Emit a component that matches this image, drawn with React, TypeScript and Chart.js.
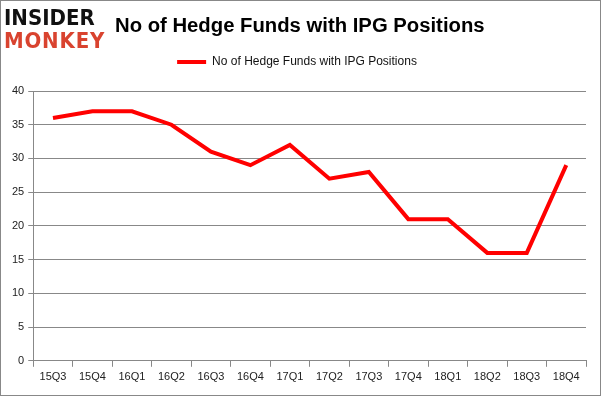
import React, { useEffect, useRef } from "react";
import { Chart, registerables } from "chart.js";

Chart.register(...registerables);

const categories = ["15Q3","15Q4","16Q1","16Q2","16Q3","16Q4","17Q1","17Q2","17Q3","17Q4","18Q1","18Q2","18Q3","18Q4"];
const hedgeFunds = [36,37,37,35,31,29,32,27,28,21,21,16,16,29];
const seriesLabel = "No of Hedge Funds with IPG Positions";
const titleText = "No of Hedge Funds with IPG Positions";

const legendMargin = {
  id: "legendMargin",
  beforeInit(chart: any) {
    const origFit = chart.legend.fit;
    chart.legend.fit = function () {
      origFit.bind(chart.legend)();
      this.height += 13;
    };
  },
};

export default function App() {
  const ref = useRef<HTMLCanvasElement | null>(null);
  useEffect(() => {
    document.body.style.margin = "0";
    const font = "'Liberation Sans', Arial, sans-serif";
    const chart = new Chart(ref.current as HTMLCanvasElement, {
      type: "line",
      data: {
        labels: categories,
        datasets: [{
          label: seriesLabel,
          data: hedgeFunds,
          borderColor: "#ff0000",
          backgroundColor: "#ff0000",
          borderWidth: 4,
          pointRadius: 0,
          tension: 0,
        }],
      },
      plugins: [legendMargin],
      options: {
        animation: false,
        responsive: false,
        layout: { padding: { top: 36, right: 15, left: 8, bottom: 8 } },
        plugins: {
          legend: {
            display: true,
            labels: {
              boxWidth: 29,
              boxHeight: 4,
              color: "#111",
              font: { family: font, size: 12 },
              padding: 20,
              generateLabels: (c: any) =>
                (Chart.defaults.plugins.legend.labels.generateLabels as any)(c).map((l: any) => ({ ...l, lineWidth: 0 })),
            },
          },
          tooltip: { enabled: false },
        },
        scales: {
          x: {
            offset: true,
            grid: { drawOnChartArea: false, offset: true, tickLength: 6, color: "#888" },
            border: { color: "#888" },
            ticks: { color: "#222", font: { family: font, size: 11 }, maxRotation: 0, padding: 4 },
          },
          y: {
            min: 0,
            max: 40,
            ticks: { stepSize: 5, color: "#222", font: { family: font, size: 11 }, padding: 4 },
            grid: { color: "#888", tickLength: 5 },
            border: { color: "#888" },
          },
        },
      },
    });
    return () => chart.destroy();
  }, []);
  return (
    <div style={{ position: "relative", width: 601, height: 396, background: "#fff" }}>
      <canvas ref={ref} width={601} height={396} style={{ position: "absolute", left: 0, top: 0 }} />
      <div style={{ position: "absolute", left: 0, top: 0, width: 601, height: 396, boxSizing: "border-box", border: "1px solid #888", pointerEvents: "none" }} />
      <div style={{ position: "absolute", left: 4, top: 6, fontFamily: "'DejaVu Sans Condensed', 'DejaVu Sans', sans-serif", fontWeight: 900, fontSize: 22, lineHeight: "23px" }}>
        <div style={{ color: "#111" }}>INSIDER</div>
        <div style={{ color: "#d9432f", letterSpacing: 0.8 }}>MONKEY</div>
      </div>
      <div style={{ position: "absolute", left: 115, top: 15, fontFamily: font(), fontWeight: 700, fontSize: 20.3, lineHeight: "20px", color: "#000", whiteSpace: "nowrap" }}>
        {titleText}
      </div>
    </div>
  );
}

function font() {
  return "'Liberation Sans', Arial, sans-serif";
}
